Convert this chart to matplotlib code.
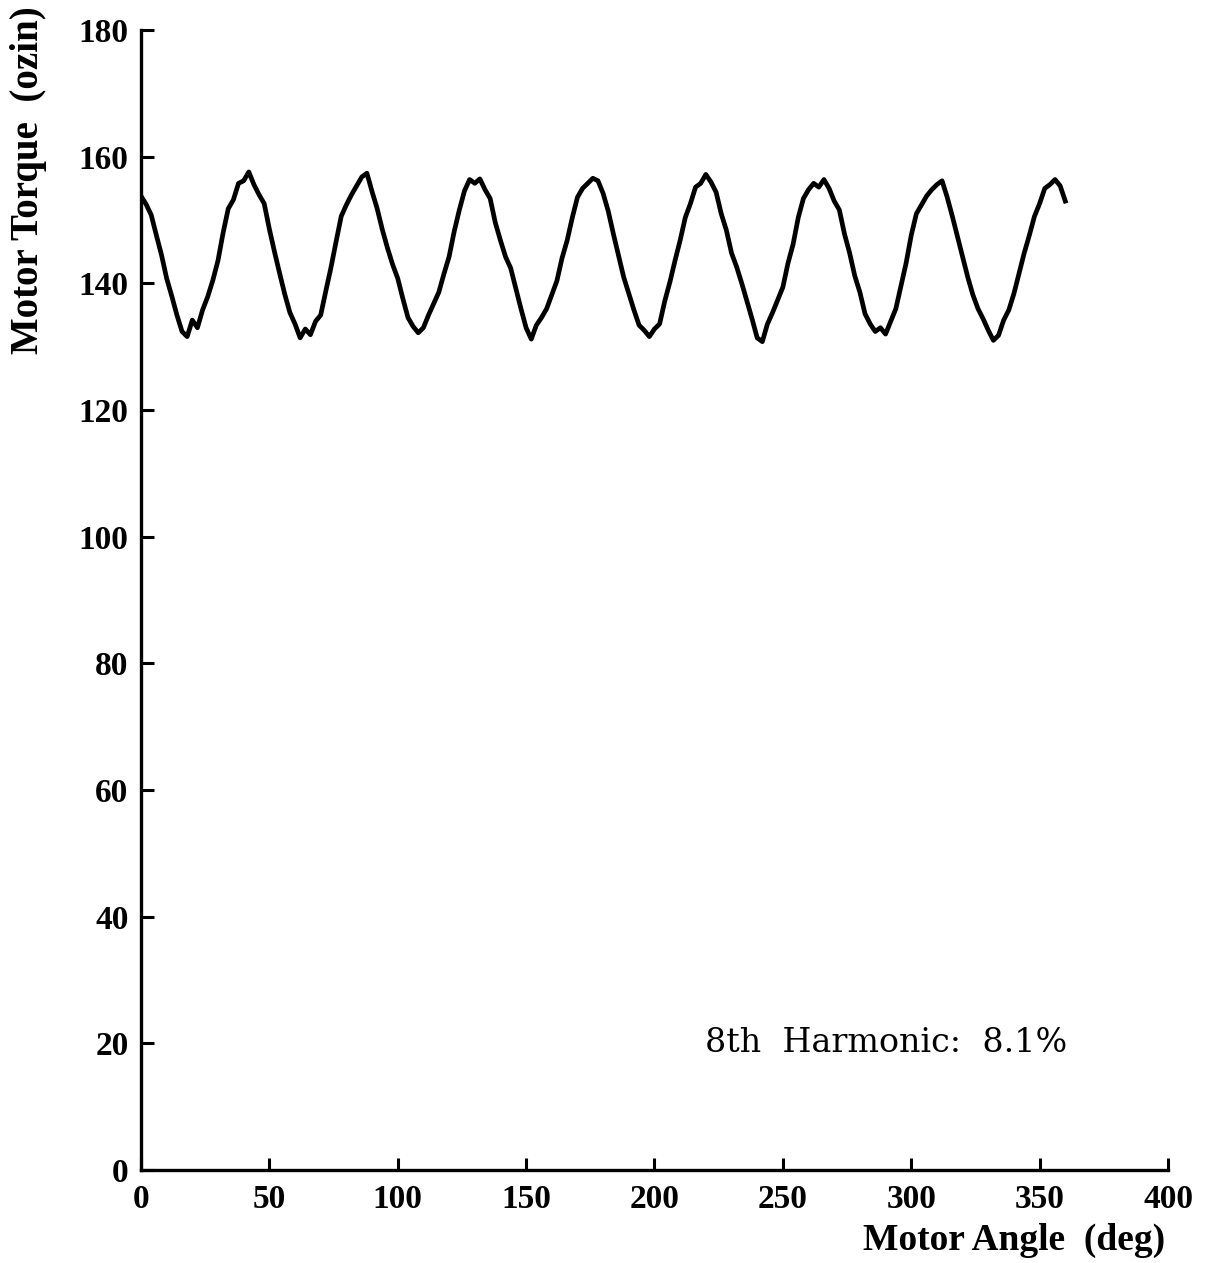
import matplotlib
matplotlib.use('Agg')
import matplotlib.pyplot as plt

angle = list(range(0, 362, 2))
torque = [
    153.8, 152.5, 150.8, 147.6, 144.5, 140.8, 138.0, 135.0, 132.4, 131.6,
    134.2, 133.0, 135.8, 137.9, 140.5, 143.6, 148.0, 151.8, 153.2, 155.8,
    156.2, 157.6, 155.6, 154.0, 152.6, 148.6, 145.0, 141.6, 138.3, 135.4,
    133.6, 131.4, 132.8, 131.9, 134.0, 135.0, 138.8, 142.5, 146.6, 150.6,
    152.4, 154.0, 155.4, 156.8, 157.4, 154.5, 151.8, 148.5, 145.6, 143.0,
    140.8, 137.6, 134.6, 133.2, 132.2, 133.0, 135.0, 136.8, 138.6, 141.5,
    144.2, 148.2, 151.6, 154.6, 156.4, 155.8, 156.5, 154.8, 153.4, 149.6,
    146.8, 144.2, 142.4, 139.2, 136.0, 133.0, 131.2, 133.4, 134.6, 136.0,
    138.2, 140.4, 144.0, 146.8, 150.4, 153.6, 155.0, 155.8, 156.6, 156.2,
    154.2, 151.4, 147.8, 144.4, 141.0, 138.4, 135.8, 133.4, 132.6, 131.6,
    132.8, 133.6, 137.2, 140.2, 143.6, 146.8, 150.4, 152.6, 155.2, 155.8,
    157.2, 156.0, 154.4, 151.0, 148.4, 144.8, 142.6, 140.0, 137.2, 134.4,
    131.4, 130.8, 133.6, 135.4, 137.4, 139.4, 143.2, 146.2, 150.4, 153.4,
    154.8, 155.8, 155.2, 156.4, 155.0, 153.0, 151.6, 147.8, 144.8, 141.2,
    138.6, 135.2, 133.6, 132.4, 133.0, 132.0, 134.0, 136.0, 139.6, 143.2,
    147.6, 151.0, 152.4, 153.8, 154.8, 155.6, 156.2, 153.6, 150.6, 147.4,
    144.2, 141.0, 138.2, 136.0, 134.4, 132.6, 131.0, 131.8, 134.2, 135.8,
    138.4, 141.6, 144.8, 147.6, 150.6, 152.6, 155.0, 155.6, 156.4, 155.4,
    153.0,
]
angle = angle[:len(torque)]

x_ticks = [0, 50, 100, 150, 200, 250, 300, 350, 400]
y_ticks = [0, 20, 40, 60, 80, 100, 120, 140, 160, 180]

serif = ['Liberation Serif', 'DejaVu Serif']

fig = plt.figure(figsize=(12.12, 12.63), dpi=100)
ax = fig.add_axes([0.1163, 0.0736, 0.8474, 0.9026])

ax.plot(angle, torque, color='black', linewidth=3.4)

ax.set_xlim(0, 400)
ax.set_ylim(0, 180)
ax.set_xticks(x_ticks)
ax.set_yticks(y_ticks)
ax.tick_params(direction='in', length=9, width=2.2)
ax.tick_params(axis='x', pad=10)
ax.tick_params(axis='y', pad=9)
for lab in ax.get_xticklabels() + ax.get_yticklabels():
    lab.set_family(serif)
    lab.set_fontweight('bold')
    lab.set_fontsize(24)

ax.spines['top'].set_visible(False)
ax.spines['right'].set_visible(False)
ax.spines['left'].set_linewidth(2.4)
ax.spines['bottom'].set_linewidth(2.4)

fig.text(0.0235, 0.857, 'Motor Torque  (ozin)', rotation=90, ha='center', va='center',
         family=serif, fontweight='bold', fontsize=28)
fig.text(0.961, 0.018, 'Motor Angle  (deg)', ha='right', va='center',
         family=serif, fontweight='bold', fontsize=27)

ax.text(0.731, 0.174, '8th  Harmonic:  8.1%', transform=fig.transFigure,
        family=['DejaVu Serif'], fontsize=24, ha='center', va='center')

fig.savefig('out.png', dpi=100)
